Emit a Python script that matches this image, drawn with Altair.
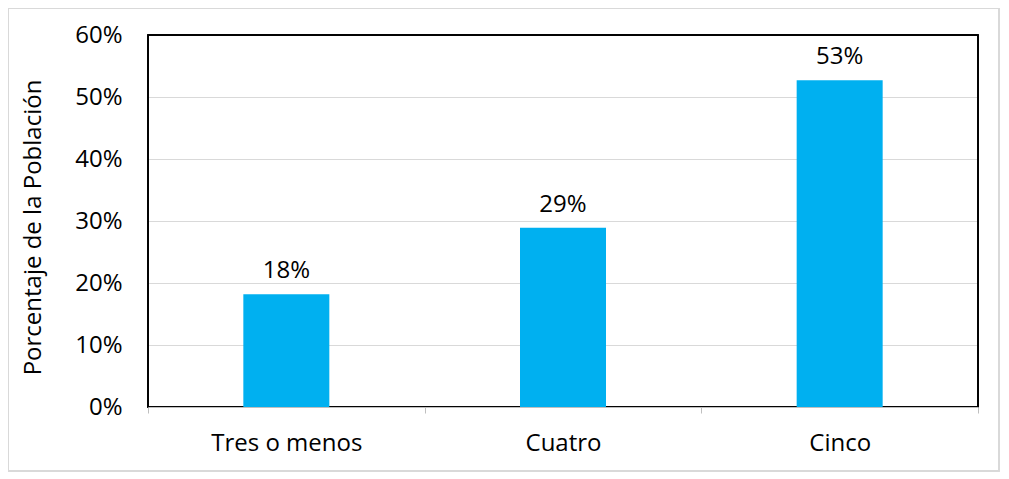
import altair as alt
import pandas as pd

categories = ["Tres o menos", "Cuatro", "Cinco"]
values = [0.182, 0.289, 0.527]
labels = ["18%", "29%", "53%"]

df = pd.DataFrame({"cat": categories, "val": values, "lab": labels})

FONT = "Open Sans"
FS = 24
W, H = 830, 372

x_enc = alt.X(
    "cat:N", sort=categories, title=None,
    scale=alt.Scale(paddingInner=0, paddingOuter=0),
    axis=alt.Axis(labelAngle=0, labelFontSize=FS, labelColor="#000000", labelFont=FONT,
                  labelPadding=18, tickBand="extent", tickSize=6, tickColor="#bfbfbf",
                  domainColor="#bfbfbf", domainWidth=1.2, grid=False, zindex=1)
)
y_enc = alt.Y(
    "val:Q", title="Porcentaje de la Población",
    scale=alt.Scale(domain=[0, 0.6], nice=False),
    axis=alt.Axis(format="%", values=[0, 0.1, 0.2, 0.3, 0.4, 0.5, 0.6], tickSize=0, domain=False,
                  labelFontSize=FS, labelFont=FONT, labelColor="#000000", labelPadding=26,
                  gridColor="#d9d9d9", gridWidth=1,
                  titleFontSize=FS, titleFont=FONT, titleFontWeight="normal", titleColor="#000000",
                  titleX=-115, titleY=192, titleAngle=-90, titleAlign="center", titleBaseline="middle")
)

bars = alt.Chart(df).mark_bar(color="#00B0F0", size=86).encode(x=x_enc, y=y_enc)
text = alt.Chart(df).mark_text(fontSize=FS, font=FONT, color="#000000", baseline="alphabetic", dy=-16).encode(
    x=alt.X("cat:N", sort=categories), y="val:Q", text="lab:N"
)
border = alt.Chart(df).mark_rect(fill=None, stroke="#000000", strokeWidth=1.5, clip=False).encode(
    x=alt.value(0), x2=alt.value(W), y=alt.value(0), y2=alt.value(H)
)
frame = alt.Chart(df).mark_rect(fill=None, stroke="#d9d9d9", strokeWidth=1.5, clip=False).encode(
    x=alt.value(-140), x2=alt.value(851), y=alt.value(-27), y2=alt.value(436)
)

chart = alt.layer(border, bars, text, frame).properties(
    width=W, height=H,
    autosize=alt.AutoSizeParams(type="none"),
    padding={"left": 140, "top": 27, "right": 22, "bottom": 66},
).configure_view(stroke=None).configure(background="white")

chart.save("out.html", embed_options={"renderer": "svg", "actions": False})
